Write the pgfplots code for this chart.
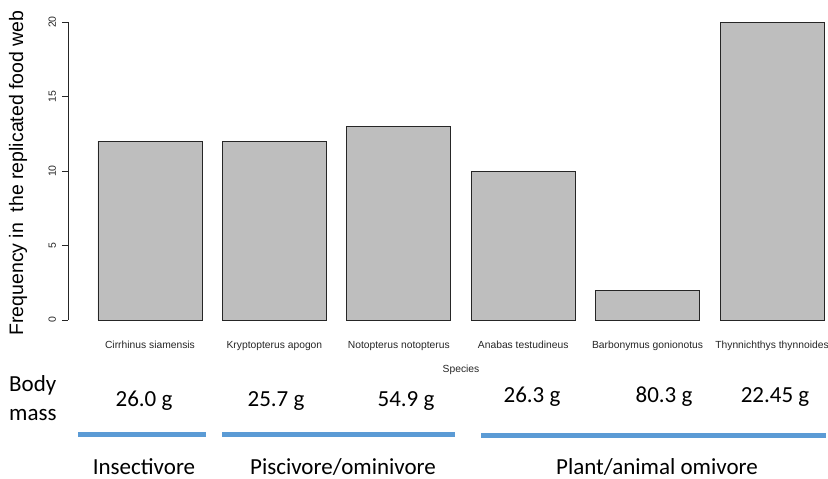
\documentclass[border=0pt]{standalone}
\usepackage{pgfplots}
\pgfplotsset{compat=1.18}
\usepackage{fontspec}
\setmainfont{Liberation Sans}
\newfontfamily\calfont{Carlito}
\definecolor{barfill}{HTML}{BEBEBE}
\definecolor{ann}{HTML}{5B9BD5}
\definecolor{txt}{HTML}{262626}
\begin{document}
\begin{tikzpicture}
\useasboundingbox (0pt,0pt) rectangle (828pt,-479pt);
\begin{axis}[
  at={(68pt,-320pt)}, anchor=south west,
  scale only axis, width=760pt, height=298pt,
  xmin=-0.659, xmax=5.45, ymin=0, ymax=20,
  clip=false,
  axis lines*=left,
  x axis line style={draw=none},
  y axis line style={-, draw=txt, line width=0.8pt},
  xtick={0,1,2,3,4,5},
  xticklabels={Cirrhinus siamensis, Kryptopterus apogon, Notopterus notopterus, Anabas testudineus, Barbonymus gonionotus, Thynnichthys thynnoides},
  major x tick style={draw=none},
  xticklabel style={font=\fontsize{10.3}{12}\selectfont, text=txt, anchor=base, yshift=-22pt},
  ytick={0,5,10,15,20},
  tick align=outside,
  major tick length=6pt,
  y tick style={draw=txt, line width=0.8pt},
  yticklabel shift=2.5pt,
  yticklabel style={font=\fontsize{10.5}{12}\selectfont, text=txt, rotate=90, anchor=south},
  /pgf/number format/assume math mode=true,
]
\addplot[ybar, bar width=104pt, fill=barfill, draw=black!85, line width=0.8pt]
  coordinates {(0,12) (1,12) (2,13) (3,10) (4,2) (5,20)};
\end{axis}
\node[rotate=90, font=\fontsize{19.5}{22}\selectfont] at (18pt,-173pt) {Frequency in\ \ the replicated food web};
\node[font=\fontsize{10.3}{12}\selectfont, text=txt] at (461pt,-370pt) {Species};
\begin{scope}[every node/.style={font=\calfont\fontsize{23}{29}\selectfont}]
\node[align=left, anchor=west, inner sep=0pt] at (9pt,-398pt) {Body\\mass};
\node at (144pt,-401pt) {26.0 g};
\node at (276pt,-401pt) {25.7 g};
\node at (406pt,-401pt) {54.9 g};
\node at (532pt,-397pt) {26.3 g};
\node at (664pt,-397pt) {80.3 g};
\node at (775pt,-397pt) {22.45 g};
\node at (144pt,-467pt) {Insectivore};
\node at (343pt,-467pt) {Piscivore/ominivore};
\node at (657pt,-467pt) {Plant/animal omivore};
\end{scope}
\draw[ann, line width=5pt] (78pt,-434pt) -- (206pt,-434pt);
\draw[ann, line width=5pt] (222pt,-434pt) -- (455pt,-434pt);
\draw[ann, line width=5pt] (481pt,-435pt) -- (826pt,-435pt);
\end{tikzpicture}
\end{document}
